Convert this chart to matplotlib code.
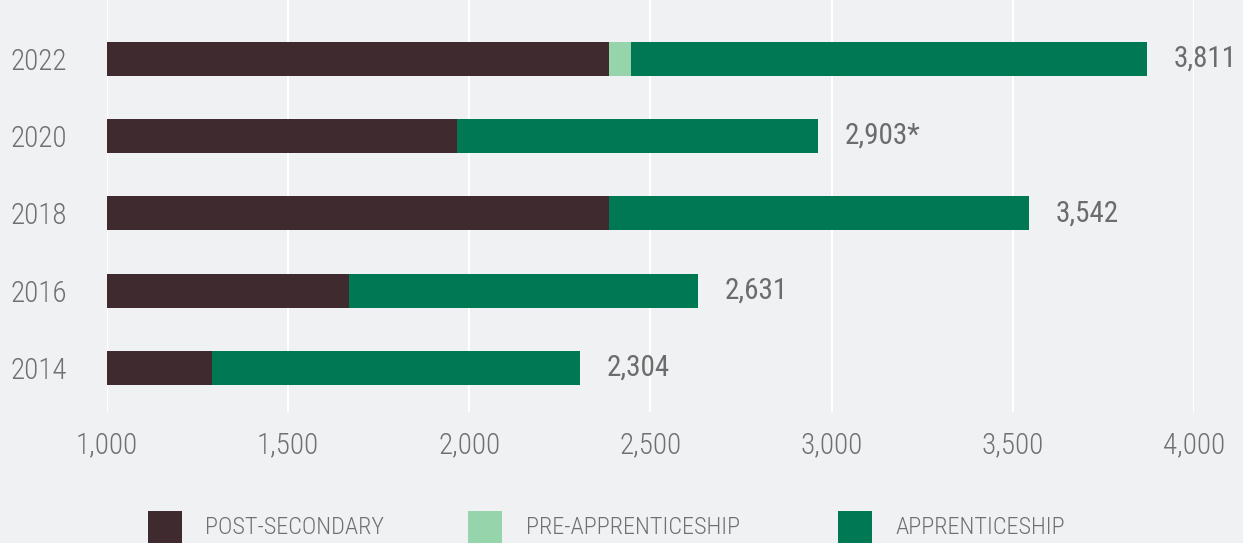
import matplotlib
matplotlib.use("Agg")
import matplotlib.pyplot as plt
from matplotlib.patches import Rectangle

years = ["2014", "2016", "2018", "2020", "2022"]
post_secondary = [1291, 1669, 2387, 1966, 2386]
pre_apprenticeship = [0, 0, 0, 0, 61]
apprenticeship = [1015, 962, 1157, 997, 1424]
total_labels = ["2,304", "2,631", "3,542", "2,903*", "3,811"]
xticks = [1000, 1500, 2000, 2500, 3000, 3500, 4000]
xtick_labels = ["1,000", "1,500", "2,000", "2,500", "3,000", "3,500", "4,000"]
series_names = ["POST-SECONDARY", "PRE-APPRENTICESHIP", "APPRENTICESHIP"]
colors = ["#3f2b2f", "#96d4ab", "#007853"]

plt.rcParams["font.family"] = ["Roboto Condensed", "DejaVu Sans"]

bg = "#f0f1f3"
txt = "#707070"
W, H = 1243, 543
fig = plt.figure(figsize=(W / 100, H / 100), dpi=100, facecolor=bg)
ax = fig.add_axes([106.8 / W, 1 - 412 / H, (1194 - 106.8) / W, 412 / H])
ax.set_facecolor(bg)

ypos = list(range(len(years)))
h = 0.44
left = [0] * len(years)
for vals, col in zip([post_secondary, pre_apprenticeship, apprenticeship], colors):
    ax.barh(ypos, vals, left=left, height=h, color=col, zorder=3)
    left = [l + v for l, v in zip(left, vals)]

for y, tot, lab in zip(ypos, left, total_labels):
    ax.annotate(lab, xy=(tot, y), xytext=(19, 0), textcoords="offset points",
                ha="left", va="center", fontsize=21, color="#6c6c6c")

ax.set_xlim(1000, 4000)
ax.set_ylim(-0.57, 4.76)
ax.set_xticks(xticks)
ax.set_xticklabels(xtick_labels)
ax.set_yticks(ypos)
ax.set_yticklabels(years)
ax.tick_params(axis="both", length=0, labelsize=21, colors=txt)
ax.tick_params(axis="x", pad=14)
ax.tick_params(axis="y", pad=29)
ax.grid(axis="x", color="white", linewidth=1.5, zorder=0)
ax.grid(axis="y", visible=False)
for s in ax.spines.values():
    s.set_visible(False)
for lab in ax.get_xticklabels() + ax.get_yticklabels():
    lab.set_fontweight("light")

patch_x = [148, 468, 838]
text_x = [205, 526, 895]
for px, tx, name, col in zip(patch_x, text_x, series_names, colors):
    fig.add_artist(Rectangle((px / W, 0), 34 / W, 32 / H, transform=fig.transFigure,
                             facecolor=col, edgecolor="none"))
    fig.text(tx / W, (H - 527) / H, name, ha="left", va="center", fontsize=17.5,
             color=txt, fontweight="light")

fig.savefig("out.png", dpi=100, facecolor=bg)
